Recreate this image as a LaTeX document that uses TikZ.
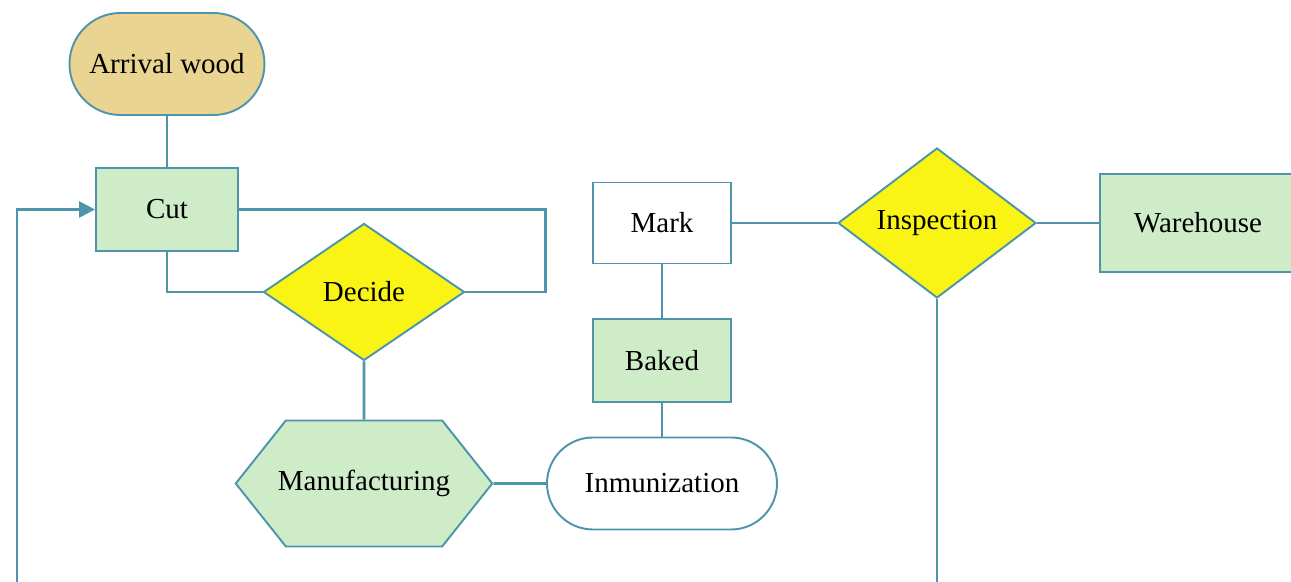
\documentclass[tikz,border=0pt]{standalone}
\usepackage{fontspec}
\setmainfont{Liberation Serif}
\usepackage{tikz}
\usetikzlibrary{shapes.geometric, shapes.symbols, arrows.meta}
\definecolor{lineblue}{RGB}{78,148,170}
\definecolor{boxgreen}{RGB}{205,236,199}
\definecolor{wood}{RGB}{234,212,146}
\definecolor{decideyellow}{RGB}{250,244,20}

\begin{document}
\begin{tikzpicture}[line width=1.1pt, draw=lineblue]

      \tikzstyle{process}=[rectangle,draw=lineblue,fill=boxgreen,inner sep=2pt,font=\fontsize{16.5}{20}\selectfont]
      \tikzstyle{terminal}=[rectangle,draw=lineblue,inner sep=2pt,font=\fontsize{16.5}{20}\selectfont]
      \tikzstyle{decision}=[diamond,draw=lineblue,fill=decideyellow,inner sep=0pt,aspect=1.4,font=\fontsize{16.5}{20}\selectfont]
      \tikzstyle{link}=[draw=lineblue,line width=1.5pt]

  \useasboundingbox (0,0) rectangle (25.82,-11.64);

  \node[terminal, fill=wood, rounded corners=1.02cm, minimum width=3.9cm, minimum height=2.04cm] (arrival) at (3.34,-1.28) {Arrival wood};
  \node[process, minimum width=2.84cm, minimum height=1.66cm] (cut) at (3.34,-4.19) {Cut};
  \node[decision, minimum width=4.02cm, minimum height=2.74cm] (decide) at (7.28,-5.84) {Decide};
  \node[process, signal, signal to=west and east, signal from=nowhere, signal pointer angle=103, inner xsep=-0.16cm, minimum height=2.52cm] (manuf) at (7.28,-9.67) {Manufacturing};
  \node[terminal, fill=white, rounded corners=0.92cm, minimum width=4.6cm, minimum height=1.84cm] (inmun) at (13.24,-9.67) {Inmunization};
  \node[process, minimum width=2.76cm, minimum height=1.66cm] (baked) at (13.24,-7.21) {Baked};
  \node[terminal, fill=white, minimum width=2.76cm, minimum height=1.62cm] (mark) at (13.24,-4.46) {Mark};
  \node[decision, minimum width=3.96cm, minimum height=3.0cm] (insp) at (18.74,-4.46) {Inspection};
  \node[process, minimum width=3.92cm, minimum height=1.96cm] (ware) at (23.96,-4.46) {Warehouse};

  \draw[link] (arrival) -- (cut);
  \draw[link] (cut.south) |- (decide.west);
  \draw[link] (cut.east) -| ([xshift=1.6cm]decide.east) -- (decide.east);
  \draw[link] (decide) -- (manuf);
  \draw[link] (manuf) -- (inmun);
  \draw[link] (inmun) -- (baked);
  \draw[link] (baked) -- (mark);
  \draw[link] (mark) -- (insp);
  \draw[link] (insp) -- (ware);
  \draw[link, -{Triangle[length=9pt, width=9pt]}] (insp.south) |- (0.34,-12.2) |- (cut.west);

  %\draw[step=1cm,gray,very thin] (0,-12) grid (26,0);

\end{tikzpicture}
\end{document}
